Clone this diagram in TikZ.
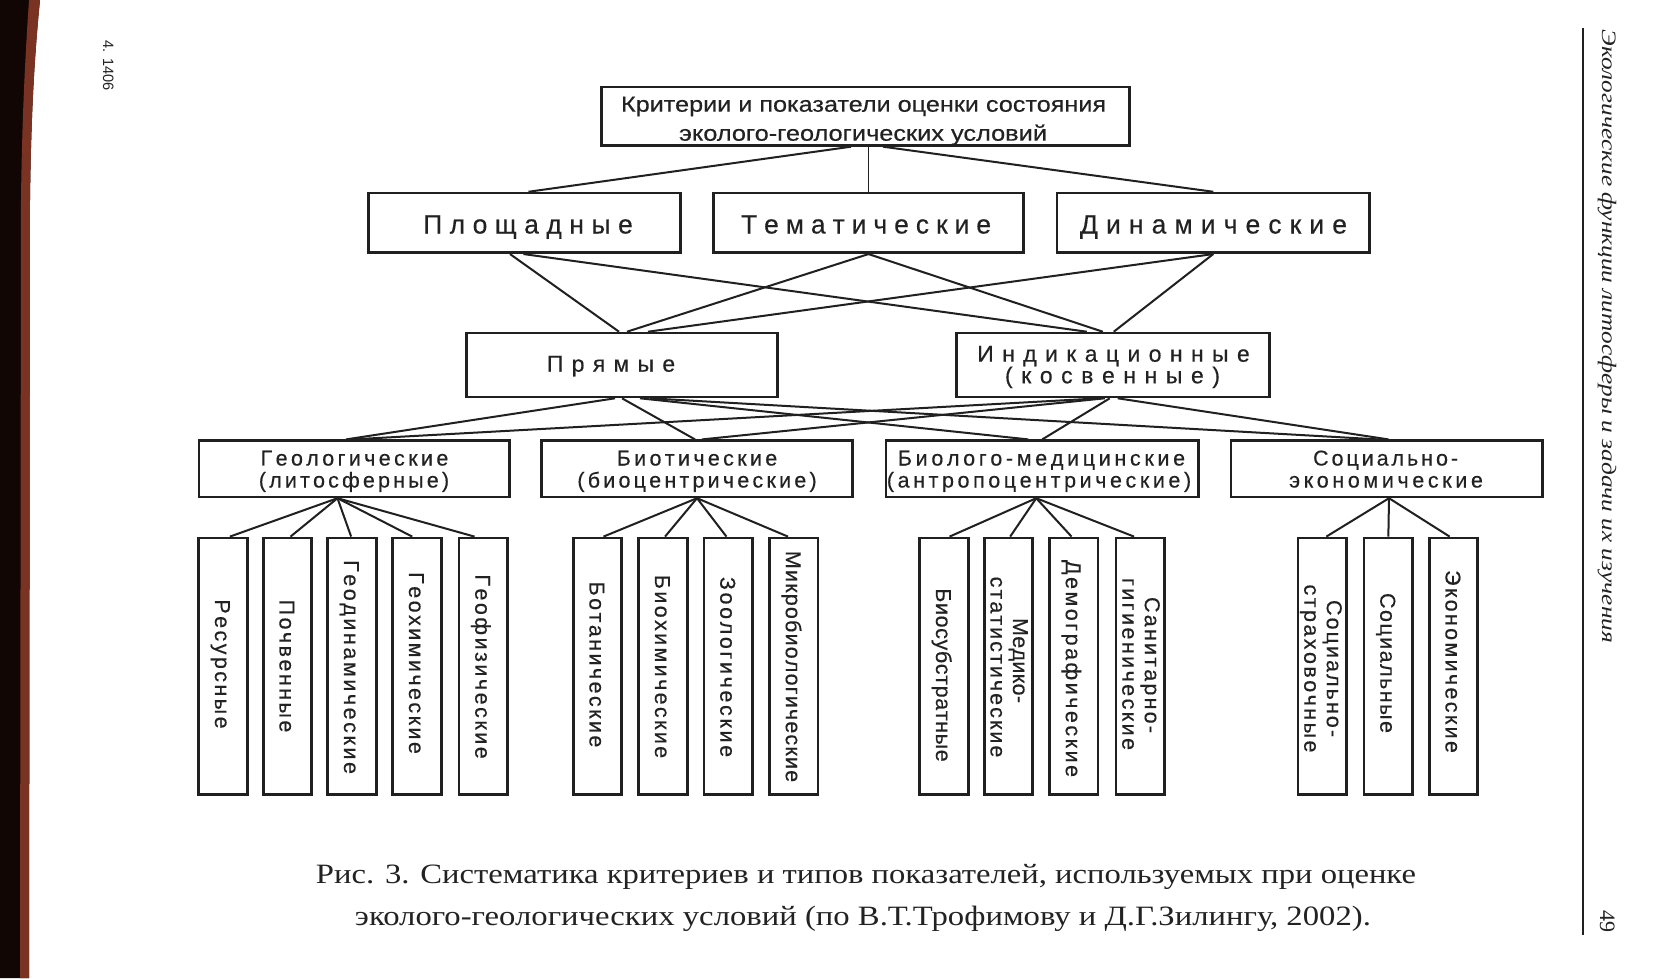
\documentclass[tikz,border=0pt]{standalone}
\usepackage{fontspec}
\usepackage{graphicx}
\usetikzlibrary{calc}
\setmainfont{Liberation Sans}
\newfontfamily\boxf{Liberation Sans}[FakeBold=0.35]
\newfontfamily\serifcap{Liberation Serif}
\definecolor{ink}{HTML}{202020}
\definecolor{txt}{HTML}{222222}
\definecolor{stripdark}{HTML}{120605}
\definecolor{stripbrown}{HTML}{7A3322}
\makeatletter
\newcount\fl@n
\newdimen\fl@w
\newdimen\fl@s
\def\fl@c#1#2\@nil{\advance\fl@n by 1\relax\ifx\relax#2\relax\else\fl@c#2\@nil\fi}
\def\lsp@a#1#2\@nil{#1\ifx\relax#2\relax\else\hspace{\fl@s}\lsp@a#2\@nil\fi}
\newcommand\fitls[2]{%
  \settowidth\fl@w{#2}%
  \fl@n=0\relax\fl@c#2\@nil
  \fl@s=#1\relax\advance\fl@s by -\fl@w
  \divide\fl@s by \numexpr\fl@n-1\relax
  \lsp@a#2\@nil}
\makeatother
\newcommand\fitw[2]{\resizebox{#1}{\height}{#2}}
\newcommand\fsTop{\boxf\fontsize{21.8}{26}\selectfont}
\newcommand\fsB{\boxf\fontsize{26.5}{30}\selectfont}
\newcommand\fsC{\boxf\fontsize{23}{26}\selectfont}
\newcommand\fsD{\boxf\fontsize{21.5}{24}\selectfont}
\newcommand\fsCap{\serifcap\fontsize{28}{32}\selectfont}
\newcommand\fsHead{\serifcap\itshape\fontsize{20.5}{24}\selectfont}
\tikzset{
  box/.style={draw=ink, line width=2.6pt, fill=white, inner sep=0pt, rectangle},
  bigbox/.style={box, minimum width=#1, minimum height=59.7pt},
  midbox/.style={box, minimum width=#1, minimum height=64pt},
  catbox/.style={box, minimum width=#1, minimum height=56.2pt},
  leafbox/.style={box, minimum width=48.5pt, minimum height=256.8pt},
  conn/.style={draw=ink, line width=2pt},
  thinconn/.style={draw=ink, line width=1.5pt},
  lbl/.style={inner sep=0pt, anchor=base, text=txt},
  ltxt/.style={lbl, rotate=-90, font=\fsD},
}
\newcommand\leafone[5]{\node[ltxt] (#1) at (#2-8,#3) {\fitls{#4}{#5}};}
\newcommand\leaftwo[8]{%
  \node[ltxt] (#1a) at (#2+4.5,#3) {\fitls{#4}{#5}};
  \node[ltxt] (#1b) at (#2-18,#6) {\fitls{#7}{#8}};}
\newcommand\fan[2]{\draw[conn] let \p1=(#1), \p2=(#2.north) in (\p1) -- ({\x2+0.06*(\x1-\x2)},\y2);}
\begin{document}
\begin{tikzpicture}[x=1pt,y=-1pt]
\useasboundingbox (0,0) rectangle (1661,978);
\fill[white] (0,0) rectangle (1661,978);
% binding strip
\fill[stripdark] (0,0) -- (40,0) .. controls (34,60) and (31,120) .. (30,200) -- (29,978) -- (0,978) -- cycle;
\fill[stripbrown] (40,0) .. controls (34,60) and (31,120) .. (30,200) -- (29,978) -- (20,978) -- (21,200) .. controls (22,120) and (25,60) .. (29,0) -- cycle;
% running head
\draw[ink, line width=2pt] (1583,28) -- (1583,935);
\node[lbl, font=\fsHead, rotate=-90] (head) at (1602,336.5) {\fitw{613pt}{Экологические функции литосферы и задачи их изучения}};
\node[lbl, font=\serifcap\fontsize{22}{24}\selectfont, rotate=-90] (pageno) at (1600,921) {49};
\node[lbl, font=\fontsize{15}{17}\selectfont, rotate=-90] (sig) at (103,65.5) {\fitw{50pt}{4. 1406}};

% boxes
\node[box, minimum width=528.4pt, minimum height=58.4pt] (top) at (865.5,116.2) {};
\node[bigbox=312.4pt] (pl) at (524.5,222.9) {};
\node[bigbox=310.4pt] (tem) at (868.5,222.9) {};
\node[bigbox=312.9pt] (din) at (1213.25,222.9) {};
\node[midbox=311.4pt] (pr) at (622,365) {};
\node[midbox=312.9pt] (ind) at (1112.75,365) {};
\node[catbox=310.4pt] (geo) at (354,468.8) {};
\node[catbox=311.4pt] (bio) at (697,468.8) {};
\node[catbox=312.9pt] (bm) at (1042.25,468.8) {};
\node[catbox=311.4pt] (soc) at (1386.5,468.8) {};
% leaves
\foreach \n/\cx in {g1/223,g2/287.5,g3/352,g4/417,g5/483.3,
  b1/597.5,b2/663,b3/728.3,b4/793.8,
  m1/944,m2/1008.5,m3/1073.8,m4/1140.3,
  s1/1322.3,s2/1388.3,s3/1453.5}
  \node[leafbox] (\n) at (\cx,666.3) {};

% connectors: top level
\draw[conn] ([xshift=-14.5pt]top.south) -- ([xshift=4pt]pl.north);
\draw[thinconn] (tem.north |- top.south) -- (tem.north);
\draw[conn] ([xshift=17.5pt]top.south) -- (din.north);
% level 2 -> level 3
\draw[conn] ([xshift=-14.5pt]pl.south) -- ([xshift=-3pt]pr.north);
\draw[conn] ([xshift=-1pt]pl.south) -- ([xshift=-26pt]ind.north);
\draw[conn] (tem.south) -- ([xshift=5pt]pr.north);
\draw[conn] (tem.south) -- ([xshift=-10pt]ind.north);
\draw[conn] (din.south) -- ([xshift=26pt]pr.north);
\draw[conn] (din.south) -- ([xshift=1pt]ind.north);
% level 3 -> level 4
\draw[conn] ([xshift=-7pt]pr.south) -- ([xshift=-8pt]geo.north);
\draw[conn] (pr.south) -- ([xshift=-2pt]bio.north);
\draw[conn] ([xshift=18pt]pr.south) -- ([xshift=-14pt]bm.north);
\draw[conn] ([xshift=28pt]pr.south) -- ([xshift=-8pt]soc.north);
\draw[conn] ([xshift=-13pt]ind.south) -- ([xshift=-2pt]geo.north);
\draw[conn] ([xshift=-8pt]ind.south) -- ([xshift=5pt]bio.north);
\draw[conn] ([xshift=-3pt]ind.south) -- (bm.north);
\draw[conn] ([xshift=5pt]ind.south) -- ([xshift=2pt]soc.north);
% fans
\coordinate (geoA) at ([xshift=-16.5pt]geo.south);
\coordinate (bioA) at (bio.south);
\coordinate (bmA) at ([xshift=-6pt]bm.south);
\coordinate (socA) at ([xshift=2.5pt]soc.south);
\foreach \l in {g1,g2,g3,g4,g5} {\fan{geoA}{\l}}
\foreach \l in {b1,b2,b3,b4} {\fan{bioA}{\l}}
\foreach \l in {m1,m2,m3,m4} {\fan{bmA}{\l}}
\foreach \l in {s1,s2,s3} {\fan{socA}{\l}}

% texts
\node[lbl, font=\fsTop] (tt1) at (863.5,111.7) {\fitw{485pt}{Критерии и показатели оценки состояния}};
\node[lbl, font=\fsTop] (tt2) at (863,140.7) {\fitw{368pt}{эколого-геологических условий}};
\node[lbl, font=\fsB] (tpl) at (528,233.5) {\fitls{210pt}{Площадные}};
\node[lbl, font=\fsB] (ttem) at (866,233.5) {\fitls{248pt}{Тематические}};
\node[lbl, font=\fsB] (tdin) at (1213.5,233.5) {\fitls{267pt}{Динамические}};
\node[lbl, font=\fsC] (tpr) at (611,371.7) {\fitls{128pt}{Прямые}};
\node[lbl, font=\fsC] (tind1) at (1113.5,361.7) {\fitls{273pt}{Индикационные}};
\node[lbl, font=\fsC] (tind2) at (1112.5,383.3) {\fitls{215pt}{(косвенные)}};
\node[lbl, font=\fsD] (tgeo1) at (354.5,465.5) {\fitls{186pt}{Геологические}};
\node[lbl, font=\fsD] (tgeo2) at (354,487.5) {\fitls{190pt}{(литосферные)}};
\node[lbl, font=\fsD] (tbio1) at (697,465.5) {\fitls{160pt}{Биотические}};
\node[lbl, font=\fsD] (tbio2) at (697,487.5) {\fitls{239pt}{(биоцентрические)}};
\node[lbl, font=\fsD] (tbm1) at (1041.5,465.5) {\fitls{286pt}{Биолого-медицинские}};
\node[lbl, font=\fsD] (tbm2) at (1039,487.5) {\fitls{304pt}{(антропоцентрические)}};
\node[lbl, font=\fsD] (tsoc1) at (1385.6,465.5) {\fitls{145pt}{Социально-}};
\node[lbl, font=\fsD] (tsoc2) at (1386,487.5) {\fitls{194pt}{экономические}};
% leaf texts
\leafone{tg1}{223}{664}{128pt}{Ресурсные}
\leafone{tg2}{287.5}{666}{132pt}{Почвенные}
\leafone{tg3}{352}{667}{212pt}{Геодинамические}
\leafone{tg4}{417}{663}{180pt}{Геохимические}
\leafone{tg5}{483.3}{666.5}{183pt}{Геофизические}
\leafone{tb1}{597.5}{664.5}{165pt}{Ботанические}
\leafone{tb2}{663}{666.5}{183pt}{Биохимические}
\leafone{tb3}{728.3}{667}{180pt}{Зоологические}
\leafone{tb4}{793.8}{666.5}{231pt}{Микробиологические}
\leafone{tm1}{944}{675}{173pt}{Биосубстратные}
\leaftwo{tm2}{1008.5}{660.5}{85pt}{Медико-}{667}{180pt}{статистические}
\leafone{tm3}{1073.8}{668.5}{217pt}{Демографические}
\leaftwo{tm4}{1140.3}{665}{136pt}{Санитарно-}{664}{172pt}{гигиенические}
\leaftwo{ts1}{1322.3}{668.5}{137pt}{Социально-}{668.5}{167pt}{страховочные}
\leafone{ts2}{1388.3}{663}{140pt}{Социальные}
\leafone{ts3}{1453.5}{661.5}{183pt}{Экономические}
% caption
\node[lbl, font=\fsCap] (cap1) at (866,883.3) {\fitw{1100pt}{Рис. 3. Систематика критериев и типов показателей, используемых при оценке}};
\node[lbl, font=\fsCap] (cap2) at (863,925) {\fitw{1016pt}{эколого-геологических условий (по В.Т.Трофимову и Д.Г.Зилингу, 2002).}};
\end{tikzpicture}
\end{document}
